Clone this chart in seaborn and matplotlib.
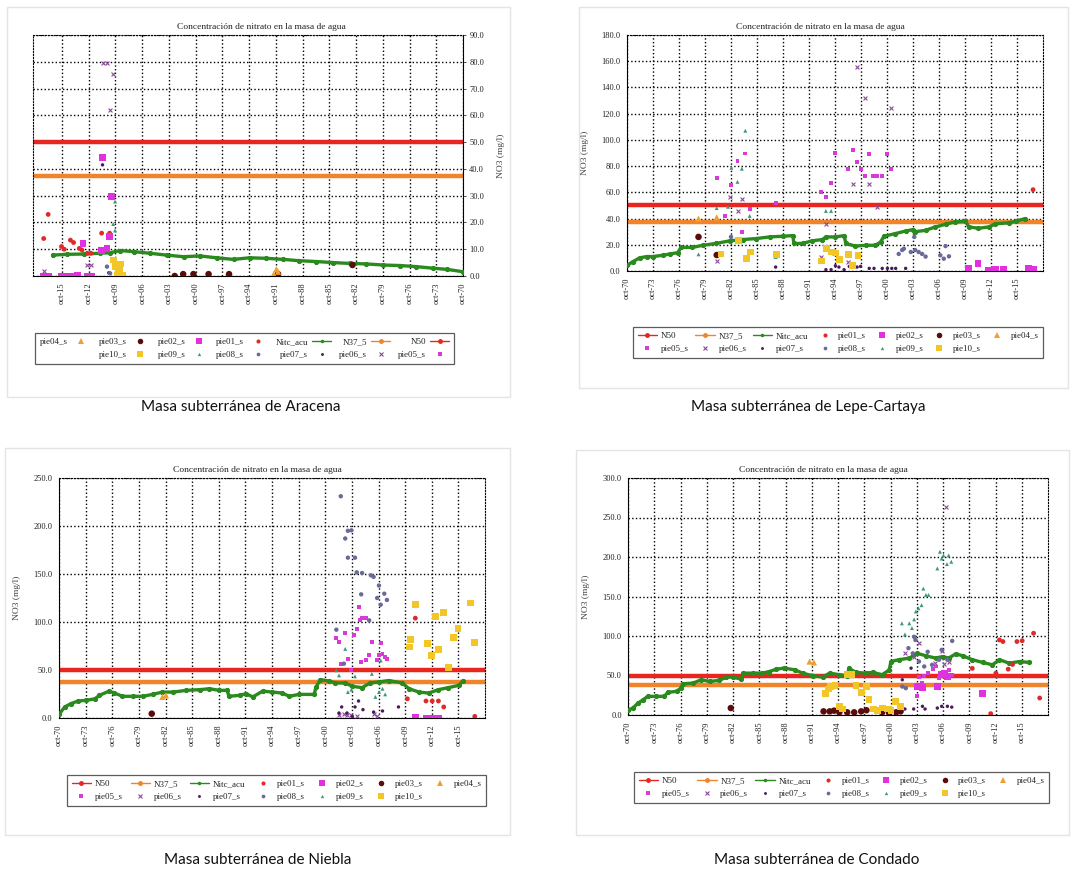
import matplotlib
matplotlib.use("Agg")
import matplotlib.pyplot as plt
import seaborn as sns
import pandas as pd
from matplotlib.lines import Line2D
from matplotlib.patches import Rectangle

# ---------------- data ----------------
TITLE = "Concentración de nitrato en la masa de agua"
YLABEL = "NO3 (mg/l)"
TICK_LABELS = ["oct-70", "oct-73", "oct-76", "oct-79", "oct-82", "oct-85", "oct-88", "oct-91",
               "oct-94", "oct-97", "oct-00", "oct-03", "oct-06", "oct-09", "oct-12", "oct-15"]
CAPTIONS = ["Masa subterránea de Aracena", "Masa subterránea de Lepe-Cartaya",
            "Masa subterránea de Niebla", "Masa subterránea de Condado"]
N50 = 50.0
N37_5 = 37.5
SERIES = ["pie01_s", "pie02_s", "pie03_s", "pie04_s", "pie05_s",
          "pie06_s", "pie07_s", "pie08_s", "pie09_s", "pie10_s"]

# --- Aracena (mirrored panel) ---
ARA_NITC = [(1970.75, 1.6), (1972.6, 2.5), (1974.1, 2.9), (1976.0, 3.5), (1977.8, 3.9), (1979.7, 4.1),
            (1981.6, 4.5), (1983.45, 4.7), (1985.3, 5.0), (1987.2, 5.4), (1989.1, 5.7), (1990.9, 6.2),
            (1992.8, 6.6), (1994.7, 6.8), (1996.5, 6.2), (1998.4, 6.8), (2000.3, 7.5), (2002.1, 7.2),
            (2004.0, 7.8), (2005.9, 8.5), (2007.7, 9.1), (2009.2, 9.5), (2010.35, 8.7), (2011.5, 8.5),
            (2013.3, 8.2), (2015.2, 8.1), (2016.8, 7.8)]
ARA_PIE01 = [(2017.8, 14), (2017.3, 23), (2015.8, 11), (2015.5, 10), (2014.8, 13.4), (2014.45, 12.5),
             (2013.8, 10.3), (2013.5, 9.7), (2012.9, 8.5), (2012.5, 8.5), (2011.3, 16), (2010.4, 16)]
ARA_PIE02 = [(2017.8, 0), (2017.3, 0), (2015.8, 0), (2015.3, 0), (2014.6, 0), (2013.97, 0.4),
             (2013.4, 12), (2012.9, 0), (2012.4, 0), (2011.3, 9.5), (2010.7, 10.3), (2011.2, 44.3),
             (2010.4, 14.7), (2010.2, 29.6)]
ARA_PIE03 = [(2003.1, 0), (2002.15, 0.7), (2001.0, 0.7), (1999.3, 0.7), (1997.0, 0.7), (1991.5, 0.7),
             (1983.15, 4.1)]
ARA_PIE04 = [(1992.0, 0.7), (1991.7, 2.5), (1991.5, 1.6)]
ARA_PIE05 = [(2010.0, 30.3), (2010.4, 15.3)]
ARA_PIE06 = [(2017.8, 2), (2011.2, 79.7), (2010.65, 79.7), (2010.05, 75.5), (2010.4, 62),
             (2012.9, 4.1), (2012.5, 4.1)]
ARA_PIE07 = [(2011.2, 41.5), (2010.5, 1.2)]
ARA_PIE08 = [(2010.7, 3.5), (2010.35, 1.0)]
ARA_PIE09 = [(2009.8, 27.8), (2010.0, 19.4), (2009.8, 17), (2009.4, 2.9)]
ARA_PIE10 = [(2010.0, 6), (2009.7, 3.5), (2009.4, 1.6), (2009.15, 4.5), (2008.9, 0.4), (2009.5, 0.4),
             (2009.3, 2.5)]

# --- Lepe-Cartaya ---
LEP_NITC = [(1970.75, 4.3), (1971.4, 7), (1972.2, 10), (1973.0, 11), (1973.7, 11), (1974.9, 12),
            (1975.7, 13), (1976.6, 14), (1977.0, 18), (1978.3, 18), (1979.5, 19.6), (1981.0, 21),
            (1982.6, 23), (1984.1, 24), (1985.6, 24.7), (1987.2, 26), (1988.7, 26.5), (1989.9, 27),
            (1990.0, 21), (1991.0, 21), (1992.1, 23), (1993.3, 24), (1993.7, 26), (1994.8, 26),
            (1995.8, 27), (1996.0, 21), (1997.1, 19), (1998.3, 19.6), (1999.4, 19.6), (2000.0, 22),
            (2000.4, 26.5), (2001.7, 28.5), (2002.9, 30.5), (2003.7, 31.5), (2004.0, 30), (2005.2, 31),
            (2006.3, 33.6), (2007.5, 35.6), (2008.6, 37.4), (2009.8, 38), (2010.2, 33.6), (2011.3, 32.6),
            (2012.5, 33.6), (2013.25, 36), (2014.8, 36.7), (2015.6, 38), (2016.7, 40)]
LEP_PIE01 = [(2017.6, 62)]
LEP_PIE02 = [(2010.2, 1.8), (2011.25, 5.6), (2012.5, 0.5), (2013.25, 1), (2014.2, 1), (2017.1, 2.3),
             (2017.7, 1)]
LEP_PIE03 = [(1979.0, 26), (1981.1, 12.2)]
LEP_PIE04 = [(1979.0, 40), (1981.1, 41), (1983.6, 23)]
LEP_PIE05 = [(1981.1, 71), (1982.1, 42), (1982.75, 65.5), (1983.5, 84), (1984.4, 89.6), (1984.0, 30),
             (1984.9, 47), (1987.9, 52), (1993.1, 60), (1993.7, 56.5), (1994.3, 67), (1994.8, 90),
             (1996.2, 78), (1996.8, 92), (1997.3, 83), (1997.7, 78), (1998.2, 72.5), (1998.7, 89),
             (1999.1, 72.5), (1999.6, 72.5), (2000.2, 72.5), (2000.7, 89), (2001.2, 78)]
LEP_PIE06 = [(1981.1, 8), (1982.6, 56.5), (1983.5, 46), (1984.0, 55), (1993.1, 11), (1993.7, 35.6),
             (1996.8, 66), (1997.3, 155.8), (1998.2, 132), (1998.7, 66), (1999.6, 49), (2001.2, 124.5),
             (1996.2, 7)]
LEP_PIE07 = [(1987.9, 3), (1993.7, 1), (1994.3, 1), (1994.8, 4), (1995.2, 3), (1995.8, 1), (1996.4, 3.5),
             (1997.3, 3), (1997.7, 3.5), (1998.7, 2), (1999.25, 2), (2000.2, 2), (2000.8, 2),
             (2001.3, 2), (2001.75, 2), (2002.9, 2)]
LEP_PIE08 = [(2002.1, 13), (2002.5, 16), (2002.7, 17), (2003.5, 14.5), (2003.9, 26), (2004.0, 16),
             (2004.4, 14.5), (2004.8, 13), (2005.2, 11), (2006.9, 12), (2007.3, 9.4), (2007.9, 11.2),
             (2007.5, 19), (1982.75, 26)]
LEP_PIE09 = [(1979.0, 12.7), (1981.1, 48), (1982.8, 78.7), (1983.5, 68), (1984.0, 78), (1984.4, 107),
             (1984.9, 42), (1987.9, 10.7), (1993.7, 45.8), (1994.3, 45.8), (1982.4, 49)]
LEP_PIE10 = [(1981.6, 13), (1983.6, 23), (1984.5, 9.4), (1985.0, 14.5), (1988.0, 12.7), (1993.2, 7.6),
             (1993.8, 17), (1994.3, 14.5), (1994.8, 13.7), (1995.3, 8.7), (1996.3, 12.7), (1996.8, 4.3),
             (1997.4, 12)]

# --- Niebla ---
NIE_NITC = [(1970.8, 4.5), (1971.4, 11.5), (1972.1, 15), (1972.9, 17.7), (1973.8, 18.4), (1974.8, 20),
            (1975.3, 23.6), (1976.4, 28), (1977.0, 26), (1977.9, 22.6), (1979.1, 22.6), (1980.2, 22.6),
            (1981.3, 24.6), (1982.4, 27), (1983.6, 27), (1985.1, 28.8), (1986.6, 29.5), (1987.7, 30.5),
            (1988.8, 28.8), (1989.7, 28.8), (1989.9, 22.6), (1991.1, 23.6), (1991.8, 25.3), (1992.6, 22),
            (1993.7, 28), (1994.8, 27), (1995.9, 26), (1996.7, 22.6), (1997.8, 24.6), (1999.5, 24.6),
            (1999.7, 32), (2000.2, 40), (2001.2, 38.5), (2001.9, 36.5), (2003.0, 36.5), (2003.8, 33),
            (2004.9, 31.6), (2005.8, 36.5), (2006.8, 37.5), (2007.9, 39), (2009.4, 36.5), (2010.2, 30.5),
            (2011.3, 27), (2012.4, 26), (2013.5, 29.5), (2014.6, 31.6), (2015.8, 34), (2016.3, 39)]
NIE_PIE01 = [(2010.9, 104), (2010.0, 20), (2012.1, 17.7), (2012.8, 17.7), (2013.5, 17.7), (2014.1, 11.5),
             (2017.6, 1.7)]
NIE_PIE02 = [(2010.9, 1), (2012.1, 0), (2012.8, 0), (2013.5, 0)]
NIE_PIE03 = [(1981.2, 4.5)]
NIE_PIE04 = [(1982.4, 22), (1982.8, 23.6)]
NIE_PIE05 = [(2002.0, 83.7), (2002.3, 79), (2002.5, 56), (2003.0, 88.5), (2003.3, 61.8), (2003.7, 50.3),
             (2004.0, 86), (2004.3, 93), (2004.6, 115.6), (2004.9, 104), (2005.3, 104.5), (2004.8, 58.3),
             (2005.3, 60.8), (2005.7, 65.3), (2006.0, 79), (2006.6, 60), (2006.8, 65.3), (2007.0, 78),
             (2007.2, 67), (2007.5, 63.5), (2007.7, 61.8), (2004.7, 101.7)]
NIE_PIE06 = [(2002.3, 2.8), (2002.9, 4.5), (2003.2, 2.8), (2003.6, 2.8), (2004.3, 1.7), (2006.2, 3.8),
             (2006.6, 2.4)]
NIE_PIE07 = [(2002.3, 5.2), (2002.6, 11.5), (2004.1, 11.5), (2004.5, 17.7), (2005.0, 8.7), (2006.2, 6.2),
             (2007.2, 7.3), (2009.0, 11.5), (2003.2, 5.2), (2003.8, 1.7)]
NIE_PIE08 = [(2002.5, 231), (2003.0, 187), (2003.3, 195), (2003.7, 195.5), (2003.3, 167), (2004.1, 167),
             (2004.3, 151.7), (2004.9, 151), (2005.9, 148.6), (2006.2, 147), (2006.8, 138), (2004.8, 128.8),
             (2006.6, 125), (2007.0, 118), (2007.4, 129.5), (2007.7, 123), (2002.0, 92), (2002.85, 56.6),
             (2005.7, 101.7)]
NIE_PIE09 = [(2002.0, 49.7), (2002.3, 44.4), (2003.0, 72), (2003.3, 27), (2003.7, 29.5), (2004.1, 43.4),
             (2006.0, 46), (2006.4, 22), (2006.8, 27), (2007.2, 30.5), (2007.5, 24.6), (2007.0, 60)]
NIE_PIE10 = [(2010.2, 74), (2010.4, 82), (2010.9, 118.4), (2012.3, 78), (2012.7, 65), (2013.2, 106),
             (2013.5, 71.5), (2014.1, 110), (2014.6, 52.4), (2015.2, 83.7), (2015.7, 93), (2017.1, 119.8),
             (2017.6, 79)]

# --- Condado ---
CON_NITC = [(1970.75, 6), (1971.3, 8.8), (1971.9, 15), (1972.5, 19.4), (1973.0, 23.6), (1974.0, 23.6),
            (1974.9, 23.6), (1975.3, 28.6), (1976.3, 30), (1976.8, 34), (1977.0, 39.5), (1978.2, 40.4),
            (1979.1, 44.6), (1980.1, 42.5), (1981.2, 43.8), (1982.0, 48), (1982.7, 48), (1983.7, 45.4),
            (1983.9, 53), (1985.0, 53), (1986.1, 53), (1986.9, 55), (1987.7, 58), (1988.6, 59.3),
            (1989.8, 57.2), (1990.7, 53), (1991.9, 49.6), (1993.0, 48), (1993.8, 53), (1994.9, 51),
            (1995.8, 49.6), (1996.0, 59), (1996.8, 54), (1997.9, 53), (1998.7, 54), (1999.8, 51),
            (2000.6, 57), (2000.8, 67.7), (2001.7, 70), (2002.9, 72), (2003.8, 78), (2004.8, 75),
            (2005.9, 72), (2006.7, 74), (2007.4, 72), (2008.2, 77.4), (2009.0, 75), (2010.1, 70),
            (2011.3, 66.5), (2012.4, 63.5), (2013.2, 70), (2014.3, 65.6), (2015.5, 67.7), (2016.6, 66.5)]
CON_PIE01 = [(2010.1, 59), (2012.8, 53), (2013.2, 95), (2013.6, 93), (2012.2, 1.7), (2014.2, 58),
             (2014.7, 64), (2015.2, 93), (2015.8, 94), (2017.1, 103.5), (2017.8, 21.5)]
CON_PIE02 = [(2011.3, 27), (2003.8, 36), (2004.4, 35), (2006.1, 36), (2006.9, 53), (2007.25, 49),
             (2006.6, 51)]
CON_PIE03 = [(1982.5, 8.8), (1993.1, 4.6), (1993.8, 4.6), (1994.3, 5.5), (1994.9, 3.4), (1995.8, 3.4),
             (1996.6, 3.4), (1997.4, 4.6), (1998.0, 6), (1999.8, 3.4), (2000.6, 2.5), (2001.4, 3.4),
             (2001.9, 4.6)]
CON_PIE04 = [(1991.5, 67.7), (1992.0, 66.5)]
CON_PIE05 = [(2004.0, 48), (2004.4, 41), (2005.0, 53), (2005.6, 58), (2005.9, 61.4), (2006.7, 51),
             (2007.4, 56.4), (2003.8, 23.6), (2004.6, 48.8), (2006.3, 46.7), (2007.8, 51)]
CON_PIE06 = [(2007.1, 263), (2006.6, 81.6), (2004.0, 91), (2005.8, 65.6), (2006.9, 64.8), (2007.4, 66.5),
             (2002.4, 78), (2003.45, 74)]
CON_PIE07 = [(2002.4, 7.6), (2003.4, 7.6), (2004.4, 11), (2004.7, 7.6), (2006.1, 8.8), (2006.6, 11),
             (2007.25, 11), (2007.75, 10), (2002.1, 44.6), (2003.1, 59.3)]
CON_PIE08 = [(2002.1, 36), (2002.5, 34), (2002.8, 84.6), (2003.3, 78), (2003.6, 95), (2004.0, 67.7),
             (2005.0, 80), (2005.5, 63.5), (2006.3, 70), (2006.6, 82.5), (2007.25, 70), (2007.8, 93.8),
             (2003.45, 99), (2004.6, 61.4)]
CON_PIE09 = [(2002.05, 116), (2002.4, 102), (2002.9, 116), (2003.2, 110), (2003.45, 121), (2003.65, 131),
             (2003.95, 135), (2004.3, 139), (2004.5, 160), (2004.8, 152), (2005.1, 152), (2006.1, 185.5),
             (2006.4, 206.6), (2006.6, 198), (2006.8, 202), (2007.2, 191), (2007.4, 202), (2007.7, 194)]
CON_PIE10 = [(1993.3, 27), (1993.7, 33), (1993.9, 36), (1994.4, 37), (1994.9, 11), (1995.3, 7.6),
             (1995.8, 51), (1996.3, 51), (1996.8, 37), (1997.4, 28.6), (1998.0, 36), (1998.3, 19.4),
             (1998.8, 7.6), (1999.3, 6), (1999.8, 8.8), (2000.4, 7.6), (2000.8, 6), (2001.3, 17.2),
             (2001.9, 11)]

# ---------------- style ----------------
sns.set_theme(style="white")
plt.rcParams["font.family"] = ["Liberation Serif", "DejaVu Serif"]

RED = "#e8251f"
ORANGE = "#f0842a"
GREEN = "#2a8a1e"
STYLE = {
    "pie01_s": ("#e02a2a", "o", 12),
    "pie02_s": ("#e030e0", "s", 24),
    "pie03_s": ("#5a0c0c", "o", 22),
    "pie04_s": ("#f0a030", "^", 20),
    "pie05_s": ("#d83ad8", "s", 8),
    "pie06_s": ("#8a4a9a", "x", 8),
    "pie07_s": ("#4a1a5a", "o", 6),
    "pie08_s": ("#6a6a98", "o", 10),
    "pie09_s": ("#3a9a78", "^", 8),
    "pie10_s": ("#f2c626", "s", 24),
}

W, H = 1072, 882
fig = plt.figure(figsize=(W / 100, H / 100), dpi=100)
fig.patch.set_facecolor("white")


def px_rect(x0, y0, x1, y1):
    return [x0 / W, 1 - y1 / H, (x1 - x0) / W, (y1 - y0) / H]


def tick_pos(label):
    yy = int(label[-2:])
    return (1900 if yy >= 50 else 2000) + yy + 0.75


def legend_handles():
    items = [
        (Line2D([], [], color=RED, lw=1.0, marker="o", ms=2.5), "N50"),
        (Line2D([], [], color=ORANGE, lw=1.0, marker="o", ms=2.5), "N37_5"),
        (Line2D([], [], color=GREEN, lw=1.0, marker="o", ms=1.5), "Nitc_acu"),
    ]
    for name in SERIES:
        c, m, s = STYLE[name]
        ms = (s ** 0.5) * 0.85
        items.append((Line2D([], [], ls="none", color=c, marker=m, ms=ms, mew=0.8 if m == "x" else 0), name))
    return items


def draw_panel(rect, nitc, pies, ymax, ystep, mirrored, leg_rect, title_x, xmax=2018.75):
    ax = fig.add_axes(px_rect(*rect))
    ax.set_facecolor("white")
    ax.axhline(N50, color=RED, lw=3.2, zorder=2)
    ax.axhline(N37_5, color=ORANGE, lw=3.2, zorder=2)
    nd = pd.DataFrame(nitc, columns=["x", "y"])
    sns.lineplot(data=nd, x="x", y="y", ax=ax, color=GREEN, lw=2.4, marker="o", ms=3.0,
                 mec=GREEN, sort=False, zorder=3)
    for name, pts in zip(SERIES, pies):
        c, m, s = STYLE[name]
        d = pd.DataFrame(pts, columns=["x", "y"])
        if m == "x":
            sns.scatterplot(data=d, x="x", y="y", ax=ax, color=c, marker=m, s=s, linewidth=0.8, zorder=4)
        else:
            sns.scatterplot(data=d, x="x", y="y", ax=ax, color=c, marker=m, s=s, linewidth=0,
                            edgecolor="none", zorder=4)
    ax.set_xlim(1970.75, xmax)
    ax.set_ylim(0, ymax)
    yt = [i * ystep for i in range(int(round(ymax / ystep)) + 1)]
    ax.set_yticks(yt)
    ax.set_yticklabels([f"{v:.1f}" for v in yt], fontsize=6)
    ax.set_xticks([tick_pos(t) for t in TICK_LABELS])
    ax.set_xticklabels(TICK_LABELS, rotation=90, fontsize=6)
    ax.tick_params(axis="both", length=2.5, width=0.6, color="#333333", pad=2, colors="#222222")
    ax.grid(True, color="black", ls=":", lw=1.0)
    ax.set_axisbelow(True)
    ax.set_xlabel("")
    ax.set_title(TITLE, fontsize=6.8, pad=4, color="#222222", x=title_x)
    for sp in ax.spines.values():
        sp.set_color("black")
        sp.set_linewidth(0.8)
    if mirrored:
        ax.invert_xaxis()
        ax.yaxis.tick_right()
        ax.yaxis.set_label_position("right")
        ax.spines["left"].set_linestyle(":")
        ax.spines["top"].set_linestyle(":")
        ax.set_ylabel(YLABEL, fontsize=6.8, labelpad=9, rotation=90, color="#444444")
    else:
        ax.spines["right"].set_linestyle(":")
        ax.spines["top"].set_linestyle(":")
        ax.set_ylabel(YLABEL, fontsize=6.8, labelpad=9, color="#444444")

    items = legend_handles()
    blank = (Line2D([], [], ls="none"), "")
    if mirrored:
        row1 = list(reversed(items[:7]))
        row2 = [blank] + list(reversed(items[7:]))
    else:
        row1 = items[:7]
        row2 = items[7:] + [blank]
    ordered = []
    for a, b in zip(row1, row2):
        ordered += [a, b]
    lx0, ly0, lx1, ly1 = leg_rect
    leg = ax.legend([h for h, _ in ordered], [l for _, l in ordered], ncol=7, loc="upper left",
                    bbox_to_anchor=(lx0 / W, 1 - ly1 / H, (lx1 - lx0) / W, (ly1 - ly0) / H),
                    bbox_transform=fig.transFigure, mode="expand", borderaxespad=0,
                    fontsize=6.5, frameon=True, fancybox=False, edgecolor="#333333",
                    handlelength=2.2, handletextpad=0.4, labelspacing=0.55, columnspacing=0.6,
                    markerfirst=not mirrored, borderpad=0.5)
    leg.get_frame().set_linewidth(0.9)
    return ax


# frames around each chart
for fr in [(7, 7, 510, 397), (579, 7, 1068, 388), (5, 448, 510, 835), (576, 450, 1069, 835)]:
    x0, y0, x1, y1 = fr
    fig.patches.append(Rectangle((x0 / W, 1 - y1 / H), (x1 - x0) / W, (y1 - y0) / H,
                                 transform=fig.transFigure, fill=False, edgecolor="#e4e4e4", lw=1.0))

draw_panel((33, 35, 463, 276), ARA_NITC,
           [ARA_PIE01, ARA_PIE02, ARA_PIE03, ARA_PIE04, ARA_PIE05, ARA_PIE06, ARA_PIE07, ARA_PIE08,
            ARA_PIE09, ARA_PIE10], 90, 10, True, (35, 333, 454, 368), 0.53, xmax=2019.0)
draw_panel((627, 35, 1043, 271), LEP_NITC,
           [LEP_PIE01, LEP_PIE02, LEP_PIE03, LEP_PIE04, LEP_PIE05, LEP_PIE06, LEP_PIE07, LEP_PIE08,
            LEP_PIE09, LEP_PIE10], 180, 20, False, (633, 327, 1043, 360), 0.465)
draw_panel((59, 478, 485, 718), NIE_NITC,
           [NIE_PIE01, NIE_PIE02, NIE_PIE03, NIE_PIE04, NIE_PIE05, NIE_PIE06, NIE_PIE07, NIE_PIE08,
            NIE_PIE09, NIE_PIE10], 250, 50, False, (67, 775, 486, 809), 0.466)
draw_panel((628, 478, 1048, 715), CON_NITC,
           [CON_PIE01, CON_PIE02, CON_PIE03, CON_PIE04, CON_PIE05, CON_PIE06, CON_PIE07, CON_PIE08,
            CON_PIE09, CON_PIE10], 300, 50, False, (634, 772, 1049, 807), 0.465)

for txt, (cx, cy) in zip(CAPTIONS, [(241, 407), (808, 407), (258, 860), (817, 860)]):
    fig.text(cx / W, 1 - cy / H, txt, ha="center", va="center", fontsize=11,
             family=["Lato", "DejaVu Sans"], color="#111111")

fig.savefig("out.png", dpi=100, facecolor="white")
